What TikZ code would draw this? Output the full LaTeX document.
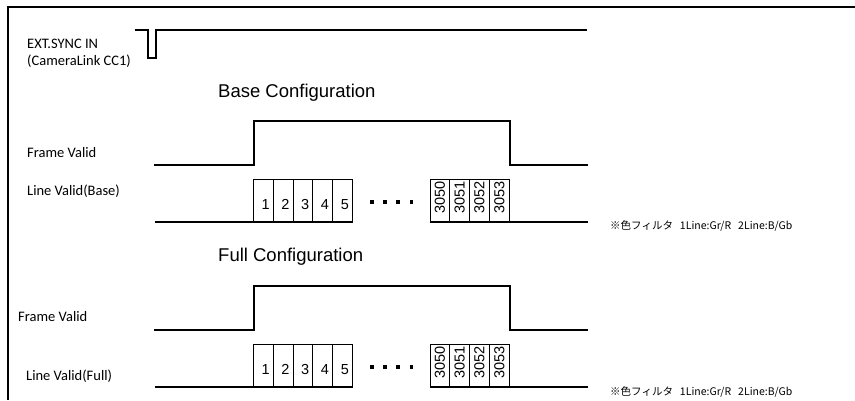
\documentclass[tikz,border=0pt]{standalone}
\usepackage{fontspec}
\setmainfont{Carlito}
\newfontfamily\headfont{Liberation Sans}
\newfontfamily\jpfont{Noto Sans CJK JP}

\begin{document}
\begin{tikzpicture}[x=1pt, y=-1pt,
    sig/.style={line width=2pt},
    cell/.style={line width=0.8pt},
    lbl/.style={anchor=base west, inner sep=0pt, font=\fontsize{14.5}{14.5}\selectfont},
    head/.style={anchor=base west, inner sep=0pt, font=\headfont\fontsize{18.5}{18.5}\selectfont},
    digit/.style={inner sep=0pt, font=\headfont\fontsize{14.5}{14.5}\selectfont},
    note/.style={anchor=base west, inner sep=0pt, font=\jpfont\fontsize{10.5}{10.5}\selectfont}]
    \useasboundingbox (0,0) rectangle (855,400);

    % frame
    \draw[line width=2pt] (8,400) -- (8,6.5) -- (855,6.5);

    % sync input
    \node[lbl] (sync) at (27,48.5) {EXT.SYNC IN};
    \node[lbl] (cc1) at (27,65.7) {(CameraLink CC1)};
    \draw[sig] (135,30) -- (148,30) -- (148,58) -- (156,58) -- (156,30) -- (587,30);

    % headings and labels
    \node[head] (basehead) at (218,97.7) {Base Configuration};
    \node[lbl] (fvbase) at (27,157.3) {Frame Valid};
    \node[lbl] (lvbase) at (27,195.7) {Line Valid(Base)};
    \node[note] (notebase) at (610,229) {※色フィルタ\hspace{7pt}1Line:Gr/R\hspace{7pt}2Line:B/Gb};

    \node[head] (fullhead) at (218,261.7) {Full Configuration};
    \node[lbl] (fvfull) at (18,321) {Frame Valid};
    \node[lbl] (lvfull) at (26,380) {Line Valid(Full)};
    \node[note] (notefull) at (610,395) {※色フィルタ\hspace{7pt}1Line:Gr/R\hspace{7pt}2Line:B/Gb};

    % waveforms
    \foreach \oy/\cfg in {0/base, 165/full} {
        \draw[sig] (154,165+\oy) -- (254,165+\oy) -- (254,121+\oy) -- (510,121+\oy)
            -- (510,165+\oy) -- (588,165+\oy);
        \draw[sig] (155,222+\oy) -- (352.3,222+\oy);
        \draw[sig] (430,222+\oy) -- (588,222+\oy);
        \foreach \i in {0,...,4} {
            \pgfmathtruncatemacro{\num}{\i+1}
            \draw[cell] ({253.3+19.8*\i},179+\oy) rectangle ++(19.8,43);
            \node[digit, anchor=base] (c\cfg\num) at ({253.3+19.8*\i+12.3},209+\oy) {\num};
        }
        \foreach \n [count=\i from 0] in {3050,3051,3052,3053} {
            \draw[cell] ({430+19.8*\i},179+\oy) rectangle ++(19.8,43);
            \node[digit, rotate=90] (c\cfg\n) at ({430+19.8*\i+9.9},197.5+\oy) {\n};
        }
        \foreach \i in {0,...,3}
            \fill ({371.7+13.2*\i-1.8},199.9+\oy) rectangle ++(3.6,3.6);
    }
\end{tikzpicture}
\end{document}
